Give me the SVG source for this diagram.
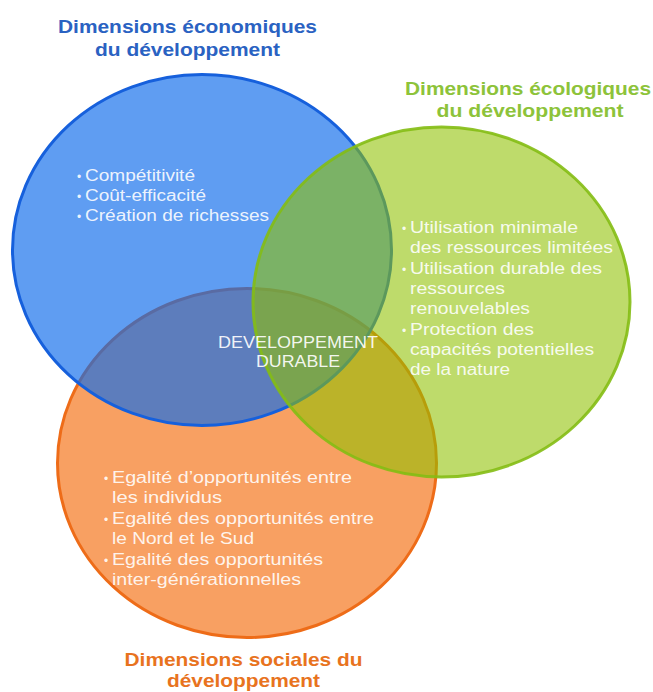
<svg xmlns="http://www.w3.org/2000/svg" width="653" height="692" viewBox="0 0 653 692">
<style>
.title{font-family:"Liberation Sans",Arial,sans-serif;font-weight:bold;font-size:18.5px}
.t-blue{fill:#2a62c2}
.t-green{fill:#8dc33a}
.t-orange{fill:#e8731e}
.body{font-family:"Liberation Sans",Arial,sans-serif;font-size:16px;fill:#ffffff;fill-opacity:0.9}
.bul{font-family:"Liberation Sans",Arial,sans-serif;font-size:12px;fill:#ffffff;fill-opacity:0.9}
.center{font-family:"Liberation Sans",Arial,sans-serif;font-size:16.5px;fill:#ffffff;fill-opacity:0.92}
</style>
<rect width="653" height="692" fill="#ffffff"/>

<g id="social">
<ellipse cx="247" cy="463" rx="189.5" ry="174.5" fill="#f8a062" stroke="#ee6c18" stroke-width="3"/>
<text class="title t-orange" x="124.5" y="666" textLength="238" lengthAdjust="spacingAndGlyphs">Dimensions sociales du</text>
<text class="title t-orange" x="167" y="687" textLength="153" lengthAdjust="spacingAndGlyphs">développement</text>
<text class="bul" x="104" y="483">•</text>
<text class="body" x="112" y="483" textLength="240" lengthAdjust="spacingAndGlyphs">Egalité d’opportunités entre</text>
<text class="body" x="112" y="503.4" textLength="110" lengthAdjust="spacingAndGlyphs">les individus</text>
<text class="bul" x="104" y="523.8">•</text>
<text class="body" x="112" y="523.8" textLength="262" lengthAdjust="spacingAndGlyphs">Egalité des opportunités entre</text>
<text class="body" x="112" y="544.2" textLength="142" lengthAdjust="spacingAndGlyphs">le Nord et le Sud</text>
<text class="bul" x="104" y="564.6">•</text>
<text class="body" x="112" y="564.6" textLength="211" lengthAdjust="spacingAndGlyphs">Egalité des opportunités</text>
<text class="body" x="112" y="585" textLength="189" lengthAdjust="spacingAndGlyphs">inter-générationnelles</text>
</g>

<g id="economique">
<ellipse cx="202" cy="250" rx="189.5" ry="175.5" fill="#0c6aec" fill-opacity="0.66" stroke="#1660dc" stroke-width="3"/>
<text class="title t-blue" x="58" y="33" textLength="259" lengthAdjust="spacingAndGlyphs">Dimensions économiques</text>
<text class="title t-blue" x="95" y="56" textLength="185" lengthAdjust="spacingAndGlyphs">du développement</text>
<text class="bul" x="77" y="181">•</text>
<text class="body" x="85" y="181" textLength="110" lengthAdjust="spacingAndGlyphs">Compétitivité</text>
<text class="bul" x="77" y="201">•</text>
<text class="body" x="85" y="201" textLength="121" lengthAdjust="spacingAndGlyphs">Coût-efficacité</text>
<text class="bul" x="77" y="220.5">•</text>
<text class="body" x="85" y="220.5" textLength="184" lengthAdjust="spacingAndGlyphs">Création de richesses</text>
</g>

<g id="ecologique">
<ellipse cx="441.5" cy="302" rx="188.5" ry="175" fill="#8fc100" fill-opacity="0.58" stroke="#84bd14" stroke-width="3" stroke-opacity="0.9"/>
<text class="title t-green" x="405" y="95" textLength="246" lengthAdjust="spacingAndGlyphs">Dimensions écologiques</text>
<text class="title t-green" x="436.5" y="117" textLength="187" lengthAdjust="spacingAndGlyphs">du développement</text>
<text class="bul" x="402" y="233">•</text>
<text class="body" x="410" y="233" textLength="168" lengthAdjust="spacingAndGlyphs">Utilisation minimale</text>
<text class="body" x="410" y="253.3" textLength="203" lengthAdjust="spacingAndGlyphs">des ressources limitées</text>
<text class="bul" x="402" y="273.6">•</text>
<text class="body" x="410" y="273.6" textLength="192" lengthAdjust="spacingAndGlyphs">Utilisation durable des</text>
<text class="body" x="410" y="293.9" textLength="95" lengthAdjust="spacingAndGlyphs">ressources</text>
<text class="body" x="410" y="314.2" textLength="120" lengthAdjust="spacingAndGlyphs">renouvelables</text>
<text class="bul" x="402" y="334.5">•</text>
<text class="body" x="410" y="334.5" textLength="124" lengthAdjust="spacingAndGlyphs">Protection des</text>
<text class="body" x="410" y="354.8" textLength="184" lengthAdjust="spacingAndGlyphs">capacités potentielles</text>
<text class="body" x="410" y="375" textLength="100" lengthAdjust="spacingAndGlyphs">de la nature</text>
</g>

<g id="durable">
<text class="center" x="218" y="348" textLength="160" lengthAdjust="spacingAndGlyphs">DEVELOPPEMENT</text>
<text class="center" x="256" y="367" textLength="84" lengthAdjust="spacingAndGlyphs">DURABLE</text>
</g>
</svg>
